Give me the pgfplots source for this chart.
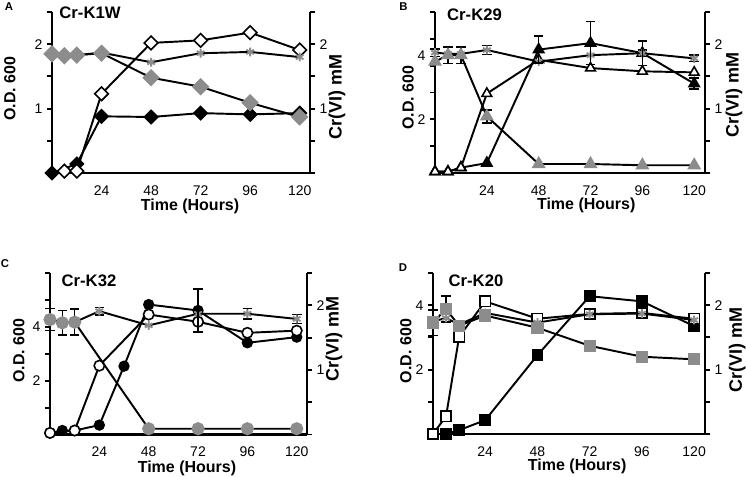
\documentclass[border=0pt]{standalone}
\usepackage{fontspec}
\setmainfont{Liberation Sans}
\usepackage{pgfplots}
\pgfplotsset{compat=1.18}
\definecolor{mg}{RGB}{140,140,140}
\pgfplotsset{
 common/.style={scale only axis, xmin=0, xmax=125, clip=false,
   axis line style={line width=1.8pt},
   major tick length=3.75pt, tick align=outside,
   ytick style={black, line width=1.4pt},
   /pgf/number format/assume math mode=true,
   tick label style={font=\fontsize{10.5}{12}\selectfont},
   label style={font=\bfseries\fontsize{12}{14}\selectfont}},
 L/.style={common, axis x line*=bottom, axis y line*=left, xtick={24,48,72,96,120},
   xtick style={draw=none}, xticklabel style={yshift=-2pt},
   xlabel={Time (Hours)}, ylabel={O.D. 600}},
 R/.style={common, axis x line=none, axis y line*=right, xtick=\empty, ymin=0, ymax=2.5,
   ytick={0,0.5,1,1.5,2,2.5}, yticklabels={,,1,,2,}, ylabel={Cr(VI) mM},
   ylabel style={font=\bfseries\fontsize{13.5}{15}\selectfont}},
 O/.style={common, hide axis},
 ln/.style={black, line width=1.45pt},
 eb/.style={forget plot, draw=none, mark=none, error bars/.cd, y dir=both, y explicit,
   error bar style={draw=black, solid, line width=1.2pt},
   error mark options={rotate=90, draw=black, mark size=3.6pt, line width=1.2pt}},
 bdia/.style={ln, mark=square*, mark size=3.7pt, mark options={rotate=45, fill=black, draw=black, line width=0.8pt}},
 odia/.style={ln, mark=square*, mark size=3.6pt, mark options={rotate=45, fill=white, draw=black, line width=1.2pt}},
 gdia/.style={ln, mark=square*, mark size=3.9pt, mark options={rotate=45, fill=mg, draw=mg}},
 gstar/.style={ln, mark=asterisk, mark size=3.3pt, mark options={draw=mg, line width=1.4pt}},
 btri/.style={ln, mark=triangle*, mark size=4.2pt, mark options={fill=black, draw=black}},
 otri/.style={ln, mark=triangle*, mark size=4.2pt, mark options={fill=white, draw=black, line width=1.2pt}},
 gtri/.style={ln, mark=triangle*, mark size=4.6pt, mark options={fill=mg, draw=mg}},
 bcir/.style={ln, mark=*, mark size=3.5pt, mark options={fill=black, draw=black}},
 ocir/.style={ln, mark=*, mark size=3.9pt, mark options={fill=white, draw=black, line width=1.2pt}},
 gcir/.style={ln, mark=*, mark size=4.2pt, mark options={fill=mg, draw=mg}},
 bsq/.style={ln, mark=square*, mark size=3.7pt, mark options={fill=black, draw=black}},
 osq/.style={ln, mark=square*, mark size=3.9pt, mark options={fill=white, draw=black, line width=1.2pt}},
 gsq/.style={ln, mark=square*, mark size=3.9pt, mark options={fill=mg, draw=mg}},
 PA/.style={at={(39pt,-129.75pt)}, anchor=south west, width=193.5pt, height=120.75pt},
 PB/.style={at={(326.25pt,-129.75pt)}, anchor=south west, width=202.5pt, height=120.75pt},
 PC/.style={at={(37.5pt,-325.9pt)}, anchor=south west, width=192.75pt, height=121.1pt},
 PD/.style={at={(324.75pt,-325.5pt)}, anchor=south west, width=204pt, height=120.75pt},
}
\begin{document}
\begin{tikzpicture}
\useasboundingbox (0pt,0pt) rectangle (559.5pt,-357pt);
% ---------------- Panel A ----------------
\begin{axis}[L, PA, ymin=0, ymax=2.5, ytick={0,0.5,1,1.5,2,2.5}, yticklabels={,,1,,2,},
  xlabel style={at={(axis description cs:0.535,-0.21)}, anchor=center},
  ylabel style={at={(axis description cs:-0.163,0.525)}, anchor=center}]
\addplot[bdia] coordinates {(0,0) (12,0.14) (24,0.88) (48,0.87) (72,0.93) (96,0.91) (120,0.93)};
\addplot[odia] coordinates {(6,0.03) (12,0.03) (24,1.23) (48,2.02) (72,2.06) (96,2.18) (120,1.91)};
\end{axis}
\begin{axis}[R, PA, ylabel style={at={(axis description cs:1.105,0.47)}, anchor=center}]
\addplot[gstar] coordinates {(0,1.85) (6,1.82) (12,1.83) (24,1.87) (48,1.72) (72,1.86) (96,1.88) (120,1.80)};
\addplot[gdia] coordinates {(0,1.85) (6,1.82) (12,1.83) (24,1.86) (48,1.48) (72,1.34) (96,1.09) (120,0.87)};
\end{axis}
% ---------------- Panel B ----------------
\begin{axis}[L, PB, ymin=0, ymax=6, ytick={0,1,2,3,4,5,6}, yticklabels={,,2,,,,},
  extra y ticks={4.37}, extra y tick labels={4}, extra y tick style={ytick style={draw=none}},
  xlabel style={at={(axis description cs:0.56,-0.2)}, anchor=center},
  ylabel style={at={(axis description cs:-0.1,0.469)}, anchor=center}]
\addplot[btri] coordinates {(0,0.05) (6,0.05) (12,0.2) (24,0.37) (48,4.6) (72,4.84) (96,4.47) (120,3.33)};
\addplot[otri] coordinates {(0,0.05) (6,0.05) (12,0.2) (24,2.96) (48,4.22) (72,3.91) (96,3.79) (120,3.75)};
\end{axis}
\begin{axis}[R, PB, ylabel style={at={(axis description cs:1.107,0.484)}, anchor=center}]
\addplot[gstar] coordinates {(0,1.87) (6,1.85) (12,1.85) (24,1.91) (48,1.73) (72,1.83) (96,1.86) (120,1.78)};
\addplot[gtri] coordinates {(0,1.73) (6,1.83) (12,1.83) (24,0.88) (48,0.14) (72,0.14) (96,0.12) (120,0.12)};
\addplot[eb] coordinates {(6,1.83) +- (0,0.13) (12,1.83) +- (0,0.13) (24,0.88) +- (0,0.1)};
\addplot[eb] coordinates {(0,1.87) +- (0,0.06) (24,1.91) +- (0,0.07) (96,1.86) +- (0,0.05) (120,1.78) +- (0,0.05)};
\end{axis}
\begin{axis}[O, PB, ymin=0, ymax=6]
\addplot[eb] coordinates {(48,4.6) +- (0,0.5) (72,4.84) +- (0,0.8) (96,4.47) +- (0,0.46) (120,3.33) +- (0,0.2)};
\end{axis}
% ---------------- Panel C ----------------
\begin{axis}[L, PC, ymin=0, ymax=6, ytick={0,1,2,3,4,5,6}, yticklabels={,,2,,4,,},
  xlabel style={at={(axis description cs:0.533,-0.207)}, anchor=center},
  ylabel style={at={(axis description cs:-0.121,0.52)}, anchor=center}]
\addplot[bcir] coordinates {(0,0.06) (6,0.15) (12,0.15) (24,0.35) (36,2.54) (48,4.83) (72,4.61) (96,3.41) (120,3.62)};
\addplot[ocir] coordinates {(0,0.06) (12,0.15) (24,2.56) (48,4.46) (72,4.19) (96,3.78) (120,3.86)};
\end{axis}
\begin{axis}[R, PC, ylabel style={at={(axis description cs:1.105,0.59)}, anchor=center}]
\addplot[gstar] coordinates {(0,1.78) (6,1.73) (12,1.74) (24,1.91) (48,1.69) (72,1.87) (96,1.87) (120,1.79)};
\addplot[gcir] coordinates {(0,1.78) (6,1.73) (12,1.74) (48,0.09) (72,0.09) (96,0.09) (120,0.09)};
\addplot[eb] coordinates {(0,1.78) +- (0,0.17) (6,1.73) +- (0,0.19) (12,1.74) +- (0,0.2)};
\addplot[eb] coordinates {(24,1.91) +- (0,0.06) (96,1.87) +- (0,0.08) (120,1.79) +- (0,0.07)};
\end{axis}
\begin{axis}[O, PC, ymin=0, ymax=6]
\addplot[eb] coordinates {(72,4.61) +- (0,0.8)};
\end{axis}
% ---------------- Panel D ----------------
\begin{axis}[L, PD, ymin=0, ymax=5, ytick={0,1,2,3,4,5}, yticklabels={,,2,,4,},
  xlabel style={at={(axis description cs:0.53,-0.2)}, anchor=center},
  ylabel style={at={(axis description cs:-0.1,0.515)}, anchor=center}]
\addplot[bsq] coordinates {(0,0) (6,0) (12,0.12) (24,0.43) (48,2.45) (72,4.28) (96,4.12) (120,3.35)};
\addplot[osq] coordinates {(0,0) (6,0.55) (12,3.02) (24,4.12) (48,3.58) (72,3.73) (96,3.76) (120,3.58)};
\end{axis}
\begin{axis}[R, PD, ylabel style={at={(axis description cs:1.118,0.52)}, anchor=center}]
\addplot[gstar] coordinates {(0,1.75) (6,1.8) (12,1.7) (24,1.88) (48,1.73) (72,1.86) (96,1.87) (120,1.77)};
\addplot[gsq] coordinates {(0,1.73) (6,1.94) (12,1.68) (24,1.84) (48,1.65) (72,1.37) (96,1.2) (120,1.16)};
\addplot[eb] coordinates {(0,1.73) +- (0,0.2) (6,1.94) +- (0,0.2)};
\end{axis}
% ---------------- titles and panel letters ----------------
\begin{scope}[every node/.style={font=\bfseries\fontsize{12.5}{14}\selectfont}]
\node at (67.5pt,-9.75pt) {Cr-K1W};
\node at (355.9pt,-11.25pt) {Cr-K29};
\node at (66.75pt,-210.5pt) {Cr-K32};
\node at (357pt,-210.5pt) {Cr-K20};
\end{scope}
\begin{scope}[every node/.style={font=\bfseries\fontsize{8.5}{9}\selectfont}]
\node at (6.75pt,-5.25pt) {A};
\node at (302.6pt,-5.25pt) {B};
\node at (3.75pt,-198pt) {C};
\node at (302.25pt,-201pt) {D};
\end{scope}
\end{tikzpicture}
\end{document}
